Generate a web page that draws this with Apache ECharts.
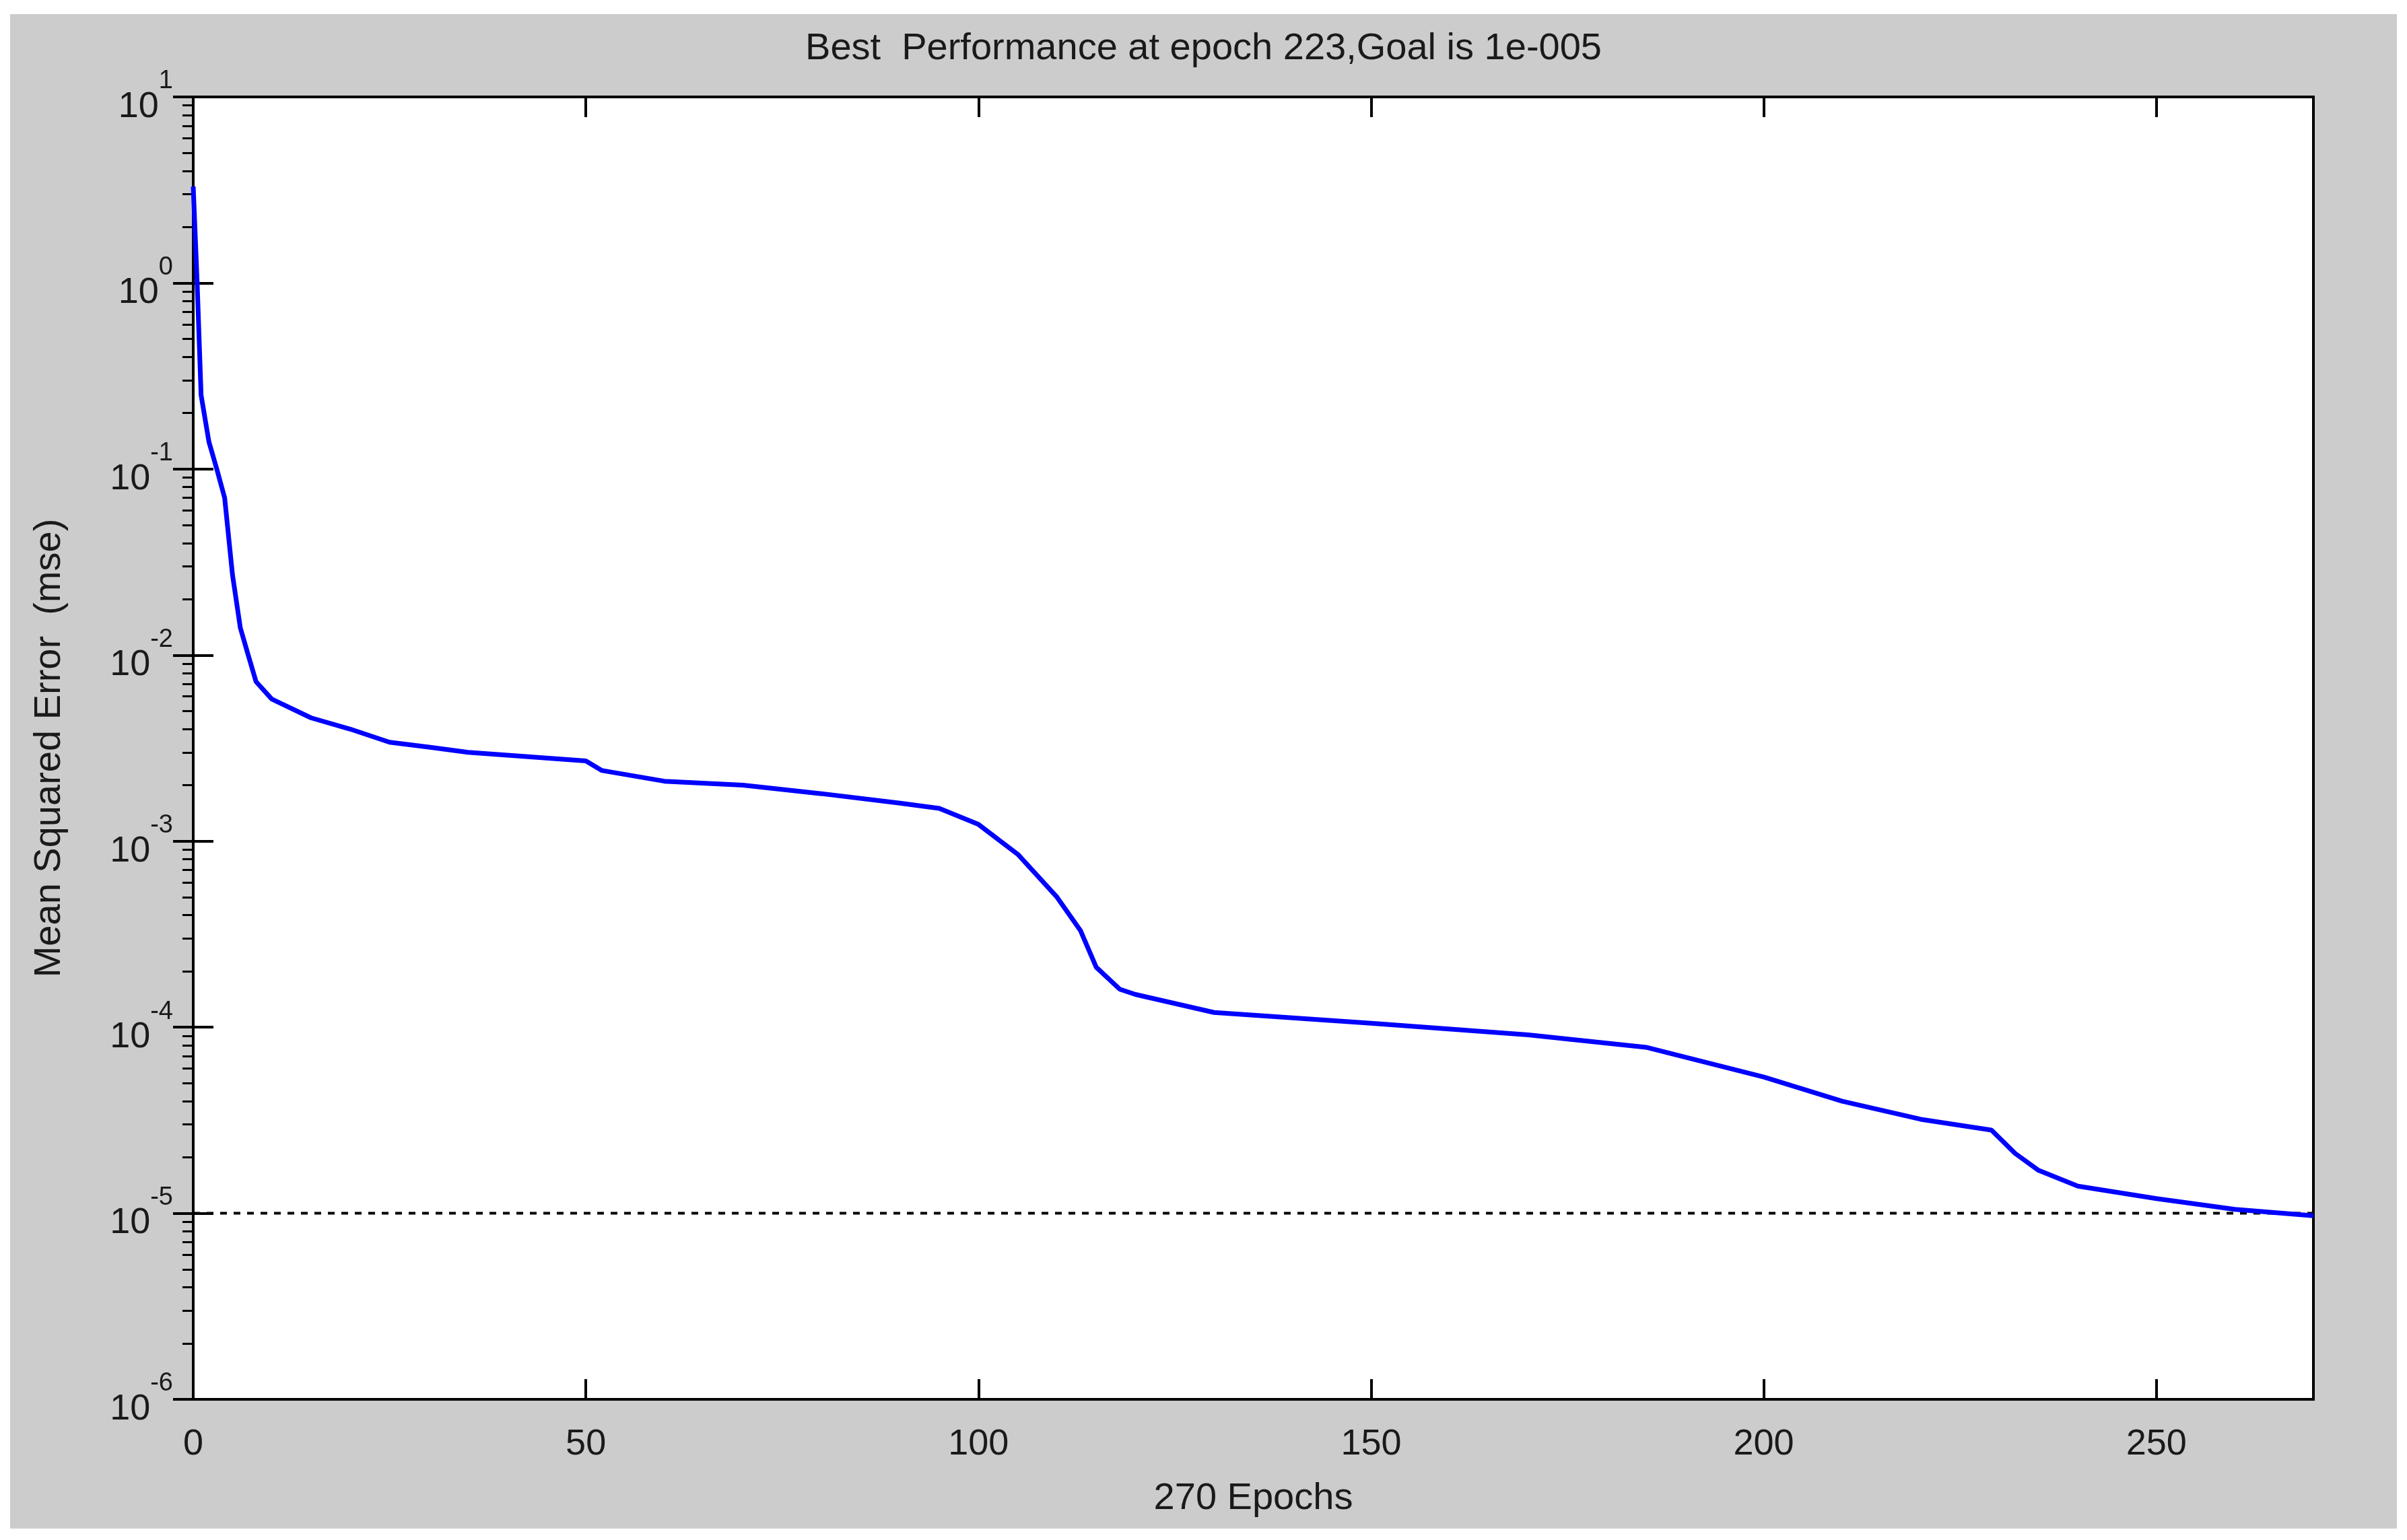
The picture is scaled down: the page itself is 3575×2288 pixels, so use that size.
<!DOCTYPE html>
<html>
<head>
<meta charset="utf-8">
<script src="https://cdn.jsdelivr.net/npm/echarts@6/dist/echarts.min.js"></script>
<style>html,body{margin:0;padding:0;background:#fff}#chart{width:3575px;height:2288px}</style>
</head>
<body>
<div id="chart"></div>
<script>
// epochs and mse
var epochs = [0, 0.5, 1, 2, 3, 4, 5, 6, 7, 8, 10, 15, 20, 25, 30, 35, 40, 50, 52, 60, 70, 80, 90, 95, 100, 105, 110, 113, 115, 118, 120, 130, 150, 170, 185, 190, 200, 210, 220, 229, 232, 235, 240, 250, 260, 270];
var mse = [3.3, 1.0, 0.25, 0.14, 0.1, 0.07, 0.027, 0.014, 0.010, 0.0072, 0.0058, 0.0046, 0.0040, 0.0034, 0.0032, 0.0030, 0.0029, 0.0027, 0.0024, 0.0021, 0.0020, 0.0018, 0.0016, 0.0015, 0.00123, 0.00085, 0.0005, 0.00033, 0.00021, 0.00016, 0.00015, 0.00012, 0.000105, 0.000091, 0.000078, 0.000069, 0.000054, 0.00004, 0.000032, 0.000028, 0.000021, 0.000017, 0.000014, 0.000012, 0.0000105, 0.0000097];
var goal = 1e-5;
var goalX = [0, 270];

var byId = function(id){
	return document.getElementById(id);
};

var txt = '#1a1a1a';
var expLabel = function(v){
	var e = Math.round(Math.log(v) / Math.LN10);
	return '{b|10}{s|' + e + '}';
};

var chart = echarts.init(byId('chart'));
var option = {
	backgroundColor: '#fff',
	animation: false,
	graphic: [{
		type: 'rect', z: -10,
		shape: {x: 15, y: 21, width: 3545, height: 2250},
		style: {fill: '#cccccc'}
	}],
	title: {
		text: 'Best  Performance at epoch 223,Goal is 1e-005',
		left: 'center', top: 40,
		textStyle: {fontFamily: 'Liberation Sans', fontWeight: 'normal', fontSize: 56, color: txt}
	},
	grid: {
		left: 287, right: 139, top: 144, bottom: 209,
		show: true, backgroundColor: '#fff', borderColor: '#000', borderWidth: 4
	},
	xAxis: [{
		type: 'value', min: 0, max: 270, interval: 50,
		name: '270 Epochs', nameLocation: 'middle', nameGap: 120,
		nameTextStyle: {fontFamily: 'Liberation Sans', fontSize: 56, color: txt},
		axisLine: {lineStyle: {color: '#000', width: 4}},
		axisTick: {inside: true, length: 30, lineStyle: {color: '#000', width: 4}},
		axisLabel: {margin: 40, fontFamily: 'Liberation Sans', fontSize: 54, color: txt, showMaxLabel: false},
		splitLine: {show: false}
	}, {
		type: 'value', min: 0, max: 270, interval: 50, position: 'top',
		axisLine: {lineStyle: {color: '#000', width: 4}},
		axisTick: {inside: true, length: 30, lineStyle: {color: '#000', width: 4}},
		axisLabel: {show: false}, splitLine: {show: false}
	}],
	yAxis: [{
		type: 'log', logBase: 10, min: 1e-6, max: 10,
		name: 'Mean Squared Error  (mse)', nameLocation: 'middle', nameGap: 185, nameRotate: 90,
		nameTextStyle: {fontFamily: 'Liberation Sans', fontSize: 56, color: txt},
		axisLine: {lineStyle: {color: '#000', width: 4}},
		axisTick: {inside: true, length: 30, lineStyle: {color: '#000', width: 4}},
		minorTick: {show: false},
		axisLabel: {margin: 30, formatter: expLabel, rich: {
			b: {fontFamily: 'Liberation Sans', fontSize: 54, color: txt, padding: [30, 0, 0, 0]},
			s: {fontFamily: 'Liberation Sans', fontSize: 38, color: txt, verticalAlign: 'top'}
		}},
		splitLine: {show: false}
	}, {
		type: 'log', logBase: 10, min: 1e-6, max: 10, position: 'right',
		axisLine: {lineStyle: {color: '#000', width: 4}},
		axisTick: {inside: true, length: 30, lineStyle: {color: '#000', width: 4}},
		minorTick: {show: true, splitNumber: 9, length: 16, lineStyle: {color: '#000', width: 3}},
		axisLabel: {show: false}, splitLine: {show: false}
	}],
	series: [{
		type: 'line', name: 'Goal',
		data: goalX.map(function(x){ return [x, goal]; }),
		showSymbol: false, silent: true,
		lineStyle: {color: '#000', type: [10, 10], width: 4}
	}, {
		type: 'line', name: 'Train',
		data: epochs.map(function(e, i){ return [e, mse[i]]; }),
		showSymbol: false, lineStyle: {color: '#0000ff', width: 7}
	}]
};
chart.setOption(option);
</script>
</body>
</html>
